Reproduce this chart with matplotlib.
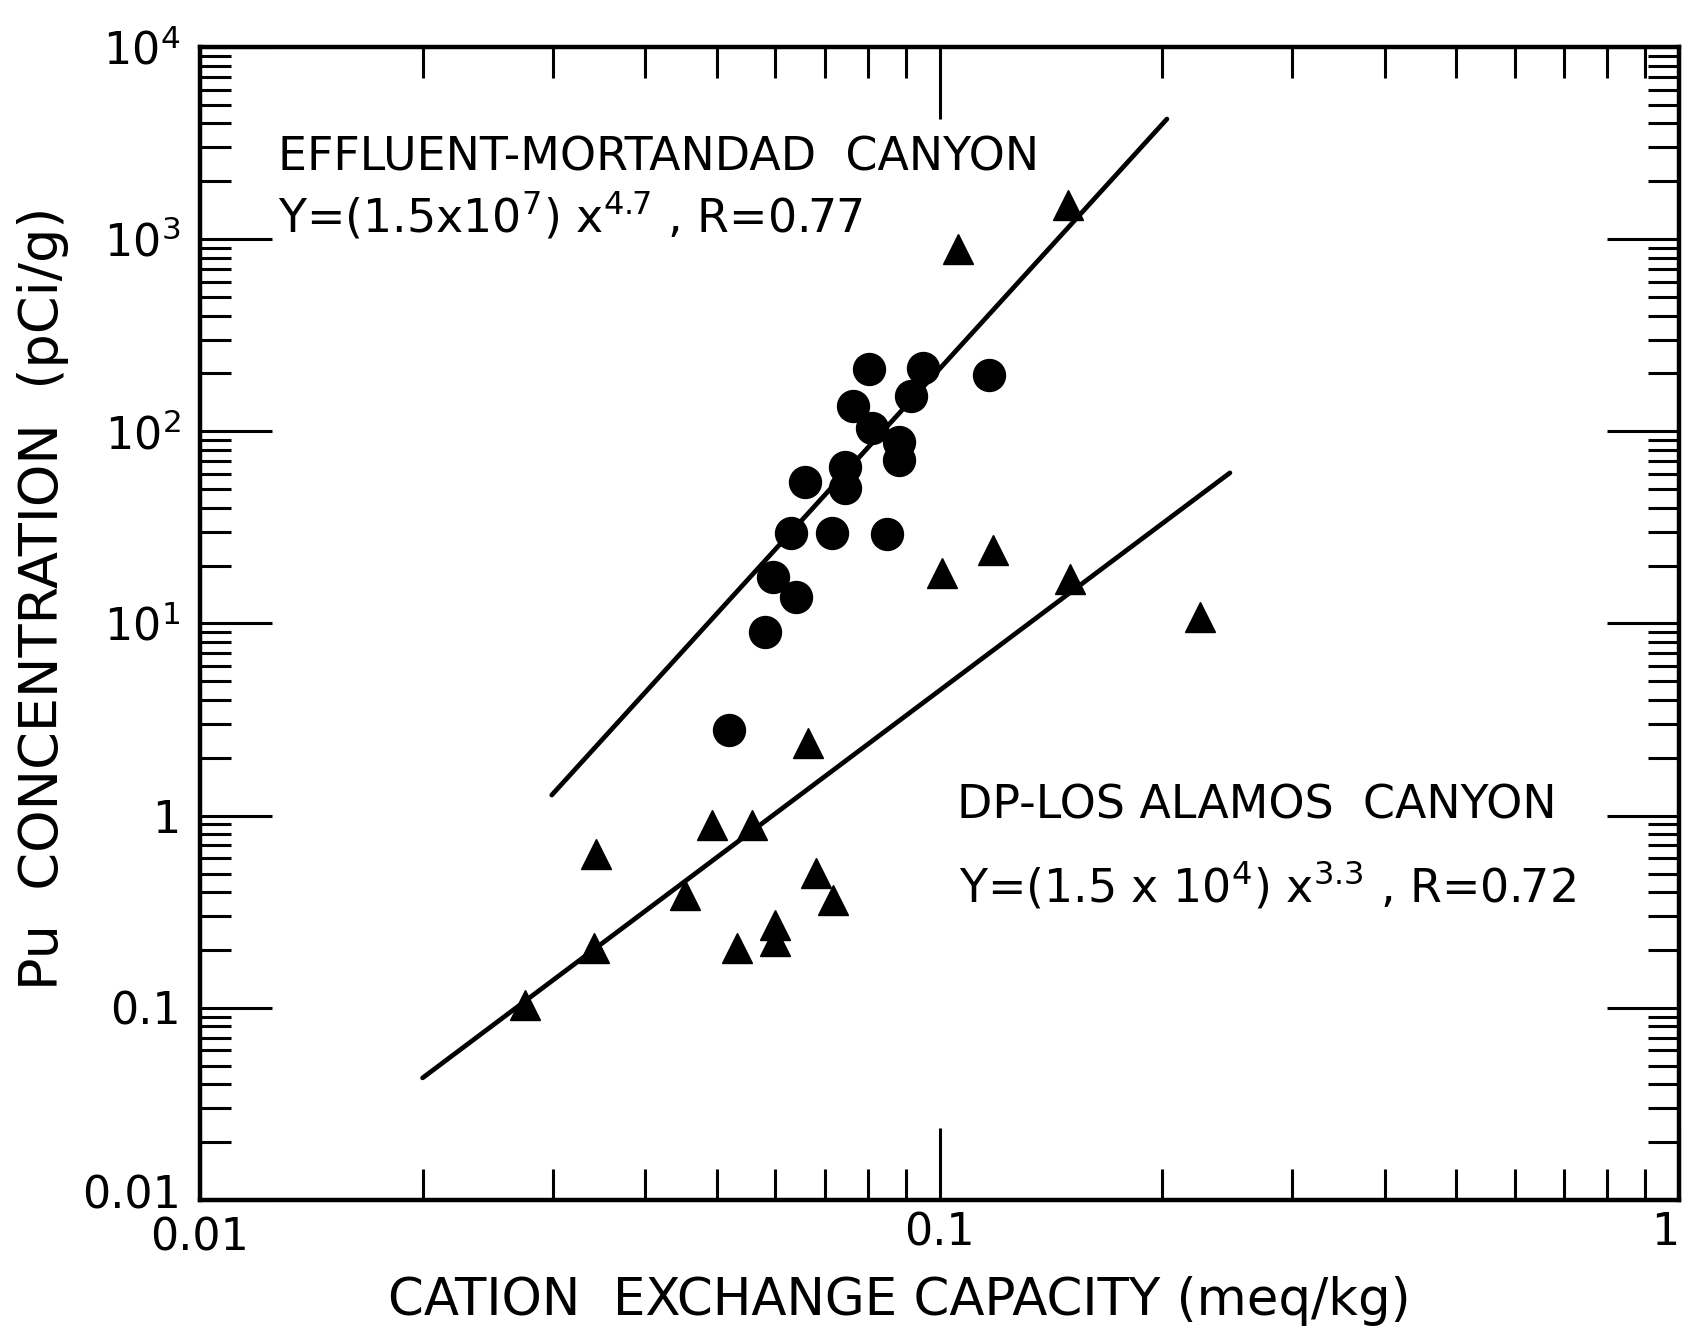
import matplotlib
matplotlib.use("Agg")
import matplotlib.pyplot as plt
from matplotlib.transforms import ScaledTranslation
from matplotlib.ticker import FixedLocator, FixedFormatter, LogLocator, NullFormatter

# filled circles
circle_x = [0.0804, 0.0951, 0.0914, 0.0765, 0.0811, 0.0881, 0.0881, 0.0745, 0.0745,
            0.0658, 0.0629, 0.0716, 0.0849, 0.0596, 0.0640, 0.0580, 0.1165, 0.0519]
circle_y = [211, 214, 153, 136, 104, 88, 71, 65, 51,
            54.5, 29.6, 29.6, 29.2, 17.5, 13.7, 9.04, 196, 2.79]

# filled triangles
triangle_x = [0.149, 0.106, 0.1008, 0.118, 0.150, 0.225, 0.0664, 0.0492, 0.0557,
              0.0343, 0.0453, 0.0681, 0.0718, 0.0341, 0.0532, 0.060, 0.060, 0.0275]
triangle_y = [1507, 889, 18.3, 24.1, 17.1, 10.8, 2.39, 0.895, 0.895,
              0.633, 0.387, 0.504, 0.365, 0.205, 0.205, 0.270, 0.223, 0.104]

# fitted lines as drawn (end points)
effluent_line_x = [0.0299, 0.203]
effluent_line_y = [1.28, 4217]
dp_line_x = [0.0200, 0.247]
dp_line_y = [0.0432, 60.8]

x_ticks = [0.01, 0.1, 1]
x_tick_labels = ["0.01", "0.1", "1"]
y_ticks = [0.01, 0.1, 1, 10, 100, 1000, 10000]
y_tick_labels = ["0.01", "0.1", "1", r"10$^{1}$", r"10$^{2}$", r"10$^{3}$", r"10$^{4}$"]

plt.rcParams["font.family"] = ["DejaVu Sans"]
plt.rcParams["mathtext.default"] = "regular"

fig = plt.figure(figsize=(16.89, 13.42), dpi=100)
ax = fig.add_axes([0.1184, 0.1058, 0.8757, 0.8592])
ax.set_xscale("log")
ax.set_yscale("log")
ax.set_xlim(0.01, 1)
ax.set_ylim(0.01, 10000)

ax.plot(effluent_line_x, effluent_line_y, color="black", lw=3.4, solid_capstyle="round")
ax.plot(dp_line_x, dp_line_y, color="black", lw=3.4, solid_capstyle="round")
ax.plot(circle_x, circle_y, "o", color="black", ms=23, mec="black", ls="none")
ax.plot(triangle_x, triangle_y, "^", color="black", ms=22, mec="black", ls="none")

ax.xaxis.set_major_locator(FixedLocator(x_ticks))
ax.xaxis.set_major_formatter(FixedFormatter(x_tick_labels))
ax.yaxis.set_major_locator(FixedLocator(y_ticks))
ax.yaxis.set_major_formatter(FixedFormatter(y_tick_labels))
for axis in (ax.xaxis, ax.yaxis):
    axis.set_minor_locator(LogLocator(base=10, subs=range(2, 10), numticks=20))
    axis.set_minor_formatter(NullFormatter())

ax.tick_params(which="both", direction="in", top=True, right=True, width=2.2)
ax.tick_params(which="major", length=52)
ax.tick_params(which="minor", length=22)
ax.tick_params(axis="x", which="major", labelsize=32, pad=8)
ax.tick_params(axis="y", which="major", labelsize=32, pad=14)
for sp in ax.spines.values():
    sp.set_linewidth(3.2)

# corner labels sit close together, nudge them apart a little
fig.canvas.draw()
ylab0 = ax.get_yticklabels()[0]
ylab0.set_transform(ylab0.get_transform() + ScaledTranslation(0, 6 / 72, fig.dpi_scale_trans))
xlab0 = ax.get_xticklabels()[0]
xlab0.set_transform(xlab0.get_transform() + ScaledTranslation(0, -4 / 72, fig.dpi_scale_trans))
ax.get_xticklabels()[-1].set_horizontalalignment("right")

ax.text(0.053, 0.904, "EFFLUENT-MORTANDAD  CANYON", transform=ax.transAxes,
        fontsize=33, va="center", ha="left")
ax.text(0.053, 0.853, r"Y=(1.5x10$^{7}$) x$^{4.7}$ , R=0.77", transform=ax.transAxes,
        fontsize=33, va="center", ha="left")
ax.text(0.512, 0.342, "DP-LOS ALAMOS  CANYON", transform=ax.transAxes,
        fontsize=33, va="center", ha="left")
ax.text(0.513, 0.273, r"Y=(1.5 x 10$^{4}$) x$^{3.3}$ , R=0.72", transform=ax.transAxes,
        fontsize=33, va="center", ha="left")

fig.text(899 / 1689, 1 - 1301 / 1342, "CATION  EXCHANGE CAPACITY (meq/kg)",
         fontsize=37, ha="center", va="center")
fig.text(43 / 1689, 1 - 598 / 1342, "Pu  CONCENTRATION  (pCi/g)", rotation=90,
         fontsize=39, ha="center", va="center")

fig.savefig("out.png", dpi=100)
